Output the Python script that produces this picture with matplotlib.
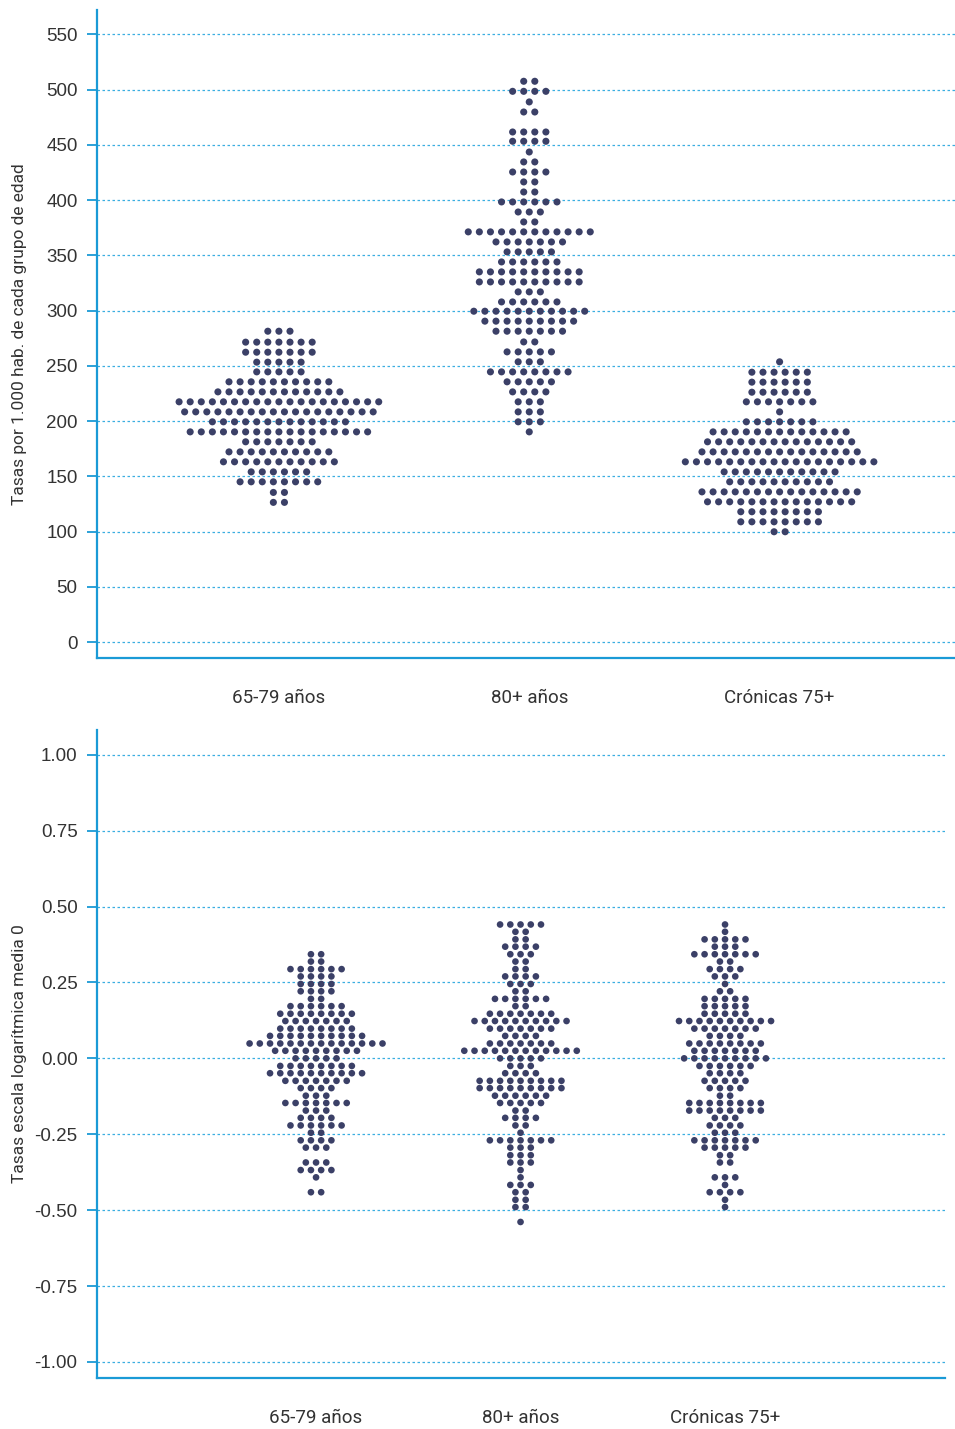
import numpy as np
import matplotlib.pyplot as plt
from matplotlib.ticker import FixedLocator, FuncFormatter

# Row values (bin centres) and number of dots per row for each group
groups = ['65-79 años', '80+ años', 'Crónicas 75+']

# Top panel: rates per 1,000 inhabitants
rate_6579_rows = [281.3, 271.4, 262.3, 253.3, 244.5, 235.5, 226.4, 217.4, 208.3,
                  199.3, 190.2, 181.2, 172.1, 163.1, 154.0, 145.0, 135.4, 126.4]
rate_6579_counts = [3, 7, 7, 5, 5, 10, 12, 19, 18, 13, 17, 7, 10, 11, 6, 8, 2, 2]

rate_80_rows = [507.5, 498.4, 488.8, 479.7, 461.6, 453.2, 443.5, 434.5, 425.4,
                416.4, 407.3, 398.3, 389.2, 380.2, 371.2, 362.1, 353.1, 344.0,
                335.0, 325.9, 316.9, 307.8, 299.4, 290.4, 281.3, 271.6, 262.6,
                253.6, 244.5, 235.5, 226.4, 217.4, 208.3, 199.3, 190.2]
rate_80_counts = [2, 4, 1, 2, 4, 4, 1, 2, 4, 2, 2, 6, 3, 2, 12, 7, 5, 6,
                  10, 10, 3, 6, 11, 9, 7, 2, 5, 3, 8, 5, 4, 3, 3, 3, 1]

rate_cron_rows = [253.6, 244.2, 235.2, 226.1, 217.4, 208.3, 199.3, 190.2, 181.2,
                  172.1, 163.1, 154.0, 145.0, 135.9, 126.9, 117.9, 108.8, 99.8]
rate_cron_counts = [1, 6, 6, 6, 7, 1, 7, 13, 14, 15, 18, 11, 10, 15, 14, 8, 8, 2]

# Bottom panel: log-scale rates centred on 0
log_6579_rows = [0.343, 0.319, 0.294, 0.270, 0.245, 0.221, 0.196, 0.172, 0.147,
                 0.123, 0.098, 0.074, 0.049, 0.025, 0.000, -0.025, -0.049, -0.074,
                 -0.098, -0.123, -0.147, -0.172, -0.196, -0.221, -0.245, -0.270,
                 -0.294, -0.343, -0.368, -0.392, -0.441]
log_6579_counts = [2, 2, 6, 4, 4, 4, 2, 6, 8, 7, 8, 10, 14, 9, 5, 8, 10, 7,
                   4, 3, 7, 3, 4, 6, 2, 4, 3, 3, 4, 1, 2]

log_80_rows = [0.441, 0.417, 0.392, 0.368, 0.343, 0.319, 0.294, 0.270, 0.245,
               0.221, 0.196, 0.172, 0.147, 0.123, 0.098, 0.074, 0.049, 0.025,
               0.000, -0.025, -0.049, -0.074, -0.098, -0.123, -0.147, -0.172,
               -0.196, -0.221, -0.245, -0.270, -0.294, -0.319, -0.343, -0.368,
               -0.392, -0.417, -0.441, -0.466, -0.490, -0.539]
log_80_counts = [5, 2, 2, 4, 3, 2, 2, 4, 3, 2, 6, 2, 7, 10, 7, 4, 7, 12, 5,
                 3, 4, 9, 9, 6, 5, 2, 4, 2, 1, 7, 3, 3, 3, 1, 1, 3, 2, 2, 2, 1]

log_cron_rows = [0.441, 0.417, 0.392, 0.368, 0.343, 0.319, 0.294, 0.270, 0.245,
                 0.221, 0.196, 0.172, 0.147, 0.123, 0.098, 0.074, 0.049, 0.025,
                 0.000, -0.025, -0.049, -0.074, -0.098, -0.123, -0.147, -0.172,
                 -0.196, -0.221, -0.245, -0.270, -0.294, -0.319, -0.343,
                 -0.392, -0.417, -0.441, -0.466, -0.490]
log_cron_counts = [1, 1, 5, 3, 7, 2, 4, 3, 1, 2, 5, 5, 5, 10, 7, 4, 8, 7, 9,
                   6, 4, 5, 4, 2, 8, 8, 3, 4, 3, 7, 5, 2, 2, 3, 1, 4, 1, 1]

top_ticks = list(range(0, 551, 50))
bottom_ticks = [-1.0, -0.75, -0.5, -0.25, 0.0, 0.25, 0.5, 0.75, 1.0]

DOT = '#3b4067'
BLUE = '#1a9ad6'
GRID = '#3aaee0'
TEXT = '#333333'
COND = ['Liberation Sans Narrow', 'Roboto', 'DejaVu Sans']


def swarm_points(xc, rows, counts, dx):
    xs, ys = [], []
    for y, n in zip(rows, counts):
        offs = (np.arange(n) - (n - 1) / 2) * dx
        xs.extend(xc + offs)
        ys.extend([y] * n)
    return xs, ys


def style_axes(ax):
    for side in ('top', 'right'):
        ax.spines[side].set_visible(False)
    for side in ('left', 'bottom'):
        ax.spines[side].set_color(BLUE)
        ax.spines[side].set_linewidth(1.6)
    ax.yaxis.grid(True, color=GRID, linestyle=(0, (2, 2)), linewidth=0.9)
    ax.set_axisbelow(True)
    ax.tick_params(axis='y', colors=BLUE, length=7, width=1.3, pad=7,
                   labelcolor=TEXT, labelsize=13.5)
    ax.tick_params(axis='x', length=0, pad=22, labelcolor=TEXT)
    for lbl in ax.get_yticklabels():
        lbl.set_family(['Liberation Sans', 'DejaVu Sans'])
    for lbl in ax.get_xticklabels():
        lbl.set_family(COND)
        lbl.set_fontsize(13.5)


fig = plt.figure(figsize=(9.55, 14.29), dpi=100)

# Top panel
ax1 = fig.add_axes([0.1016, 0.5395, 0.8984, 0.4535])
top_sets = [(rate_6579_rows, rate_6579_counts),
            (rate_80_rows, rate_80_counts),
            (rate_cron_rows, rate_cron_counts)]
for i, (rows, counts) in enumerate(top_sets):
    xs, ys = swarm_points(i, rows, counts, 0.0443)
    ax1.scatter(xs, ys, s=26, color=DOT, edgecolors='none', zorder=3)
ax1.set_xlim(-0.7265, 2.7006)
ax1.set_ylim(-14.5, 572)
ax1.yaxis.set_major_locator(FixedLocator(top_ticks))
ax1.set_xticks(range(3))
ax1.set_xticklabels(groups)
ax1.set_ylabel('Tasas por 1.000 hab. de cada grupo de edad', family=COND,
               fontsize=12.5, color=TEXT)
ax1.yaxis.set_label_coords(-0.0816, 0.5)
style_axes(ax1)

# Bottom panel
ax2 = fig.add_axes([0.1016, 0.0357, 0.888, 0.4535])
bottom_sets = [(log_6579_rows, log_6579_counts),
               (log_80_rows, log_80_counts),
               (log_cron_rows, log_cron_counts)]
for i, (rows, counts) in enumerate(bottom_sets):
    xs, ys = swarm_points(i, rows, counts, 0.05)
    ax2.scatter(xs, ys, s=23, color=DOT, edgecolors='none', zorder=3)
ax2.set_xlim(-1.071, 3.076)
ax2.set_ylim(-1.053, 1.082)
ax2.yaxis.set_major_locator(FixedLocator(bottom_ticks))
ax2.yaxis.set_major_formatter(FuncFormatter(lambda v, p: f'{v:.2f}'.replace('\u2212', '-')))
ax2.set_xticks(range(3))
ax2.set_xticklabels(groups)
ax2.set_ylabel('Tasas escala logarítmica media 0', family=COND,
               fontsize=12.5, color=TEXT)
ax2.yaxis.set_label_coords(-0.0825, 0.5)
style_axes(ax2)

fig.savefig('out.png', dpi=100)
